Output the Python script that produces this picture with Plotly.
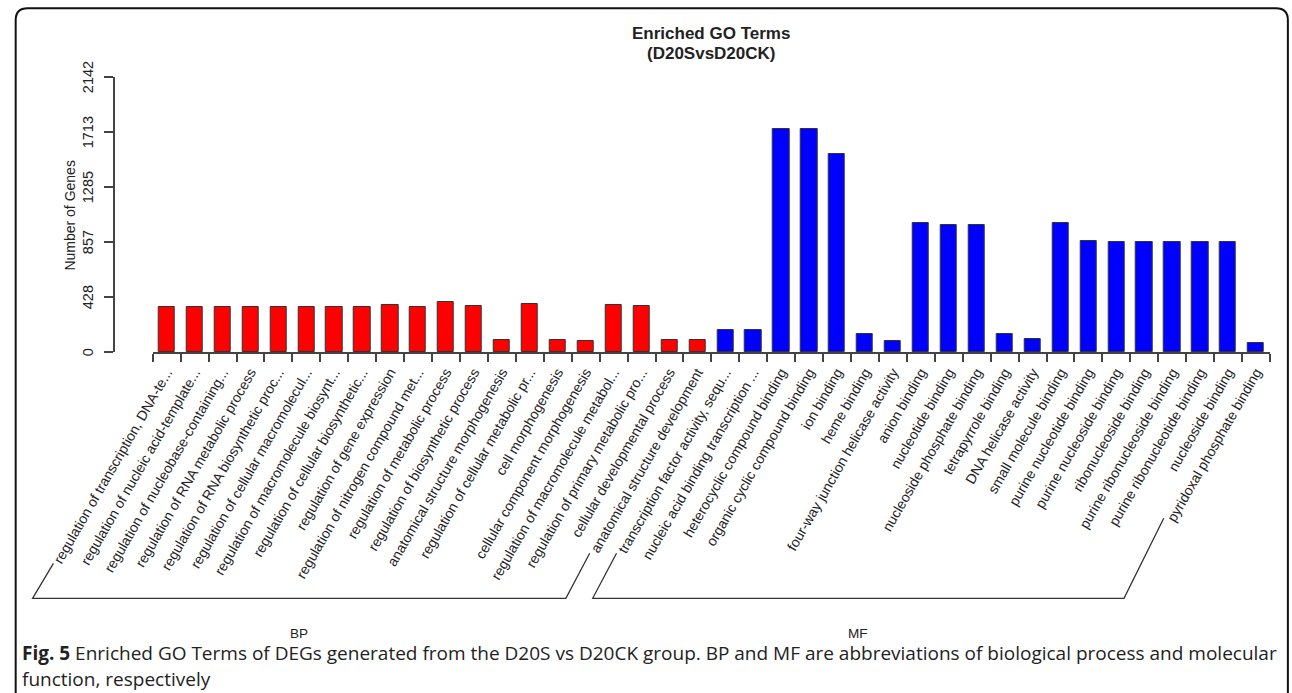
import plotly.graph_objects as go

# GO terms (BP first, then MF) and their gene counts
bp_terms = [
    "regulation of transcription, DNA-te...",
    "regulation of nucleic acid-template...",
    "regulation of nucleobase-containing...",
    "regulation of RNA metabolic process",
    "regulation of RNA biosynthetic proc...",
    "regulation of cellular macromolecul...",
    "regulation of macromolecule biosynt...",
    "regulation of cellular biosynthetic...",
    "regulation of gene expression",
    "regulation of nitrogen compound met...",
    "regulation of metabolic process",
    "regulation of biosynthetic process",
    "anatomical structure morphogenesis",
    "regulation of cellular metabolic pr...",
    "cell morphogenesis",
    "cellular component morphogenesis",
    "regulation of macromolecule metabol...",
    "regulation of primary metabolic pro...",
    "cellular developmental process",
    "anatomical structure development",
]
bp_counts = [350, 350, 352, 350, 350, 353, 354, 354, 364, 354,
             390, 357, 97, 377, 91, 88, 366, 358, 91, 97]

mf_terms = [
    "transcription factor activity, sequ...",
    "nucleic acid binding transcription ...",
    "heterocyclic compound binding",
    "organic cyclic compound binding",
    "ion binding",
    "heme binding",
    "four-way junction helicase activity",
    "anion binding",
    "nucleotide binding",
    "nucleoside phosphate binding",
    "tetrapyrrole binding",
    "DNA helicase activity",
    "small molecule binding",
    "purine nucleotide binding",
    "purine nucleoside binding",
    "ribonucleoside binding",
    "purine ribonucleoside binding",
    "purine ribonucleotide binding",
    "nucleoside binding",
    "pyridoxal phosphate binding",
]
mf_counts = [169, 169, 1740, 1740, 1540, 143, 89, 1006, 992, 992,
             143, 99, 1005, 865, 860, 860, 860, 860, 860, 68]

y_ticks = [0, 428, 857, 1285, 1713, 2142]

# page geometry (pixels)
FIG_W, FIG_H = 1292, 693
PL, PR, PT, PB = 106, 1270, 76.7, 351.7
BAR_X0 = 145
PW, PH = PR - PL, PB - PT


def px(x):
    return (x - PL) / PW


def py(y):
    return (PB - y) / PH


terms = bp_terms + mf_terms
counts = bp_counts + mf_counts
n = len(terms)
centers = [i + 0.5 for i in range(n)]
colors = ["#ff0000"] * len(bp_terms) + ["#0000ff"] * len(mf_terms)

fig = go.Figure()
fig.add_trace(go.Bar(
    x=centers, y=counts, width=0.58,
    marker=dict(color=colors, line=dict(color="#333333", width=1)),
    hoverinfo="skip",
))

label_font = dict(family="Liberation Sans, Arial, sans-serif", size=14, color="#222222")
ytick_font = dict(family="Liberation Sans, Arial, sans-serif", size=14.5, color="#222222")

fig.update_layout(
    width=FIG_W, height=FIG_H,
    margin=dict(l=PL, r=FIG_W - PR, t=PT, b=FIG_H - PB, pad=0),
    plot_bgcolor="white", paper_bgcolor="white",
    showlegend=False,
    bargap=0,
    xaxis=dict(
        domain=[px(BAR_X0), 1], range=[0, n],
        tickmode="array", tickvals=centers, ticktext=terms,
        tickangle=-60, ticks="", tickfont=label_font,
        ticklabelstandoff=5,
        showline=True, linecolor="#444444", linewidth=1.5,
        showgrid=False, zeroline=False,
        minor=dict(tickmode="linear", tick0=0, dtick=1, ticks="outside",
                   ticklen=8, tickwidth=1.5, tickcolor="#444444", showgrid=False),
    ),
    yaxis=dict(
        anchor="free", position=0,
        range=[0, y_ticks[-1]], tickmode="array", tickvals=y_ticks,
        showticklabels=False,
        ticks="outside", ticklen=9, tickwidth=1.5, tickcolor="#444444",
        showline=True, linecolor="#444444", linewidth=1.5,
        showgrid=False, zeroline=False,
    ),
)

annotations = []

# vertical y tick labels, one per tick value
for v in y_ticks:
    annotations.append(dict(text=str(v), x=px(80), y=v, xref="paper", yref="y",
                            textangle=-90, showarrow=False, font=ytick_font,
                            xanchor="center", yanchor="middle"))

title_font = dict(family="Liberation Sans, Arial, sans-serif", size=17, color="#222222")
title_x = px((BAR_X0 + PR) / 2)
annotations.append(dict(text="<b>Enriched GO Terms</b>", x=title_x, y=py(33),
                        xref="paper", yref="paper", showarrow=False, font=title_font,
                        xanchor="center", yanchor="middle"))
annotations.append(dict(text="<b>(D20SvsD20CK)</b>", x=title_x, y=py(53),
                        xref="paper", yref="paper", showarrow=False, font=title_font,
                        xanchor="center", yanchor="middle"))
annotations.append(dict(text="Number of Genes", x=px(62), y=py(215), textangle=-90,
                        xref="paper", yref="paper", showarrow=False, font=label_font,
                        xanchor="center", yanchor="middle"))

# group brackets under the term labels
group_font = dict(family="Liberation Sans, Arial, sans-serif", size=13.5, color="#222222")
brackets = [
    ("BP", [(45, 563), (24, 598), (561, 598), (585, 553)]),
    ("MF", [(612, 553), (588, 598), (1123, 598), (1163, 518)]),
]
shapes = []
for name, pts in brackets:
    path = "M " + " L ".join(f"{px(x):.5f},{py(y):.5f}" for x, y in pts)
    shapes.append(dict(type="path", path=path, xref="paper", yref="paper",
                       line=dict(color="#333333", width=1.3)))
    mid = (pts[1][0] + pts[2][0]) / 2
    annotations.append(dict(text=name, x=px(mid), y=py(633), xref="paper", yref="paper",
                            showarrow=False, font=group_font,
                            xanchor="center", yanchor="middle"))

# rounded frame around the figure
r = 12
fx0, fy0, fx1, fy1 = 7, 8, 1288, 720
frame = (f"M {px(fx0)},{py(fy1)} L {px(fx0)},{py(fy0 + r)} "
         f"Q {px(fx0)},{py(fy0)} {px(fx0 + r)},{py(fy0)} "
         f"L {px(fx1 - r)},{py(fy0)} "
         f"Q {px(fx1)},{py(fy0)} {px(fx1)},{py(fy0 + r)} "
         f"L {px(fx1)},{py(fy1)}")
shapes.append(dict(type="path", path=frame, xref="paper", yref="paper",
                   line=dict(color="#111111", width=2)))

# figure caption
cap_font = dict(family="Open Sans, sans-serif", size=19, color="#222222")
annotations.append(dict(
    text="<b>Fig. 5</b> Enriched GO Terms of DEGs generated from the D20S vs D20CK group. "
         "BP and MF are abbreviations of biological process and molecular",
    x=px(11), y=py(653), xref="paper", yref="paper", showarrow=False,
    font=cap_font, xanchor="left", yanchor="middle"))
annotations.append(dict(
    text="function, respectively",
    x=px(11), y=py(679), xref="paper", yref="paper", showarrow=False,
    font=cap_font, xanchor="left", yanchor="middle"))

fig.update_layout(annotations=annotations, shapes=shapes)

fig.write_html("out.html")
